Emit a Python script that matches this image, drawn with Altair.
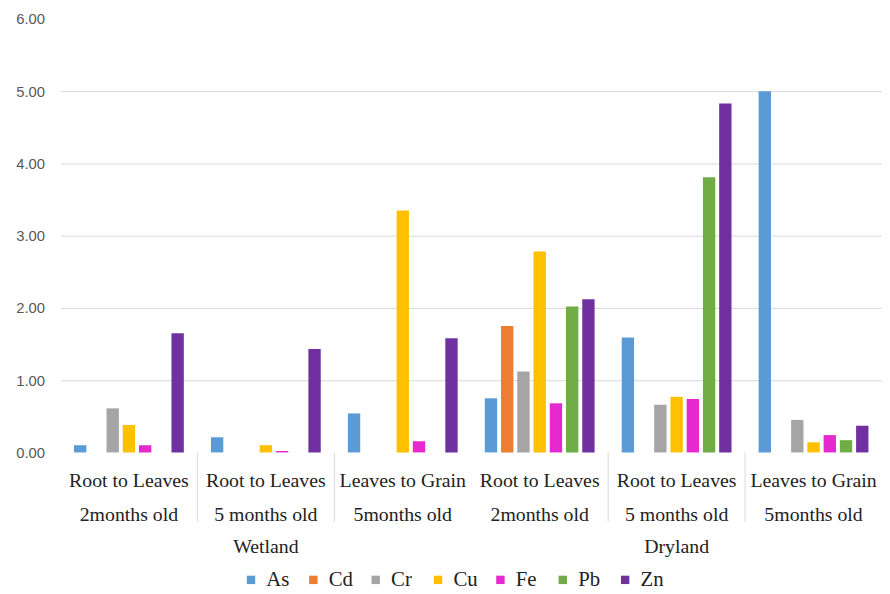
import altair as alt
import pandas as pd

groups = ["Wetland|Root to Leaves|2months old",
          "Wetland|Root to Leaves|5 months old",
          "Wetland|Leaves to Grain|5months old",
          "Dryland|Root to Leaves|2months old",
          "Dryland|Root to Leaves|5 months old",
          "Dryland|Leaves to Grain|5months old"]
metals = ["As", "Cd", "Cr", "Cu", "Fe", "Pb", "Zn"]
colors = ["#5B9BD5", "#ED7D31", "#A5A5A5", "#FFC000", "#E529CF", "#70AD47", "#7030A0"]

As = [0.10, 0.21, 0.54, 0.75, 1.59, 5.00]
Cd = [None, None, None, 1.75, None, None]
Cr = [0.61, None, None, 1.12, 0.66, 0.45]
Cu = [0.38, 0.10, 3.35, 2.78, 0.77, 0.14]
Fe = [0.10, 0.02, 0.155, 0.68, 0.74, 0.24]
Pb = [None, None, None, 2.02, 3.81, 0.17]
Zn = [1.65, 1.43, 1.58, 2.12, 4.83, 0.37]

series = {"As": As, "Cd": Cd, "Cr": Cr, "Cu": Cu, "Fe": Fe, "Pb": Pb, "Zn": Zn}
rows = []
for m in metals:
    for g, v in zip(groups, series[m]):
        if v is not None:
            rows.append({"group": g, "metal": m, "value": v})
df = pd.DataFrame(rows)

dividers = pd.DataFrame({"group": [groups[1], groups[2], groups[4], groups[5]]})
sites = pd.DataFrame({"group": [groups[1], groups[4]], "site": ["Wetland", "Dryland"]})

W, H = 830, 438
SERIF = "Liberation Serif"
TXT = "#222222"

xscale = alt.Scale(domain=groups, paddingInner=0, paddingOuter=0)

bars = alt.Chart(df).mark_bar().encode(
    x=alt.X("group:N", scale=xscale,
            axis=alt.Axis(title=None, labelAngle=0, domain=False, ticks=False,
                          labelExpr="[split(datum.label, '|')[1], split(datum.label, '|')[2]]",
                          labelFont=SERIF, labelFontSize=20, labelColor=TXT,
                          labelLineHeight=35, labelPadding=18)),
    xOffset=alt.XOffset("metal:N", scale=alt.Scale(domain=metals, paddingInner=0.24, paddingOuter=0.835)),
    y=alt.Y("value:Q", scale=alt.Scale(domain=[0, 6], nice=False),
            axis=alt.Axis(title=None, values=[0, 1, 2, 3, 4, 5, 6], format=".2f",
                          domain=False, ticks=False, labelPadding=16,
                          labelFont="Liberation Sans", labelFontSize=15, labelColor="#595959",
                          gridColor="#d9d9d9", gridWidth=1,
                          gridOpacity={"condition": {"test": "datum.value == 0 || datum.value == 6", "value": 0}, "value": 1})),
    color=alt.Color("metal:N", scale=alt.Scale(domain=metals, range=colors),
                    legend=alt.Legend(title=None, orient="none", legendX=182, legendY=556,
                                      direction="horizontal", symbolType="square", symbolSize=72,
                                      symbolStrokeWidth=0, labelFont=SERIF, labelFontSize=21,
                                      labelColor=TXT, columnPadding=12, labelOffset=5,
                                      gridAlign="all")),
)

rules = alt.Chart(dividers).mark_rule(color="#d9d9d9", strokeWidth=1).encode(
    x=alt.X("group:N", scale=xscale, bandPosition=0),
    y=alt.value(H),
    y2=alt.value(H + 70),
)

site_text = alt.Chart(sites).mark_text(font=SERIF, fontSize=20, color=TXT, baseline="middle").encode(
    x=alt.X("group:N", scale=xscale, bandPosition=0.5),
    y=alt.value(H + 96),
    text="site:N",
)

chart = alt.layer(bars, rules, site_text).properties(
    width=W, height=H,
    background="white",
    autosize=alt.AutoSizeParams(type="none"),
    padding={"left": 53, "top": 8, "right": 0, "bottom": 140},
).configure_view(strokeWidth=0)

chart.save("out.html", embed_options={"renderer": "svg", "actions": False})
